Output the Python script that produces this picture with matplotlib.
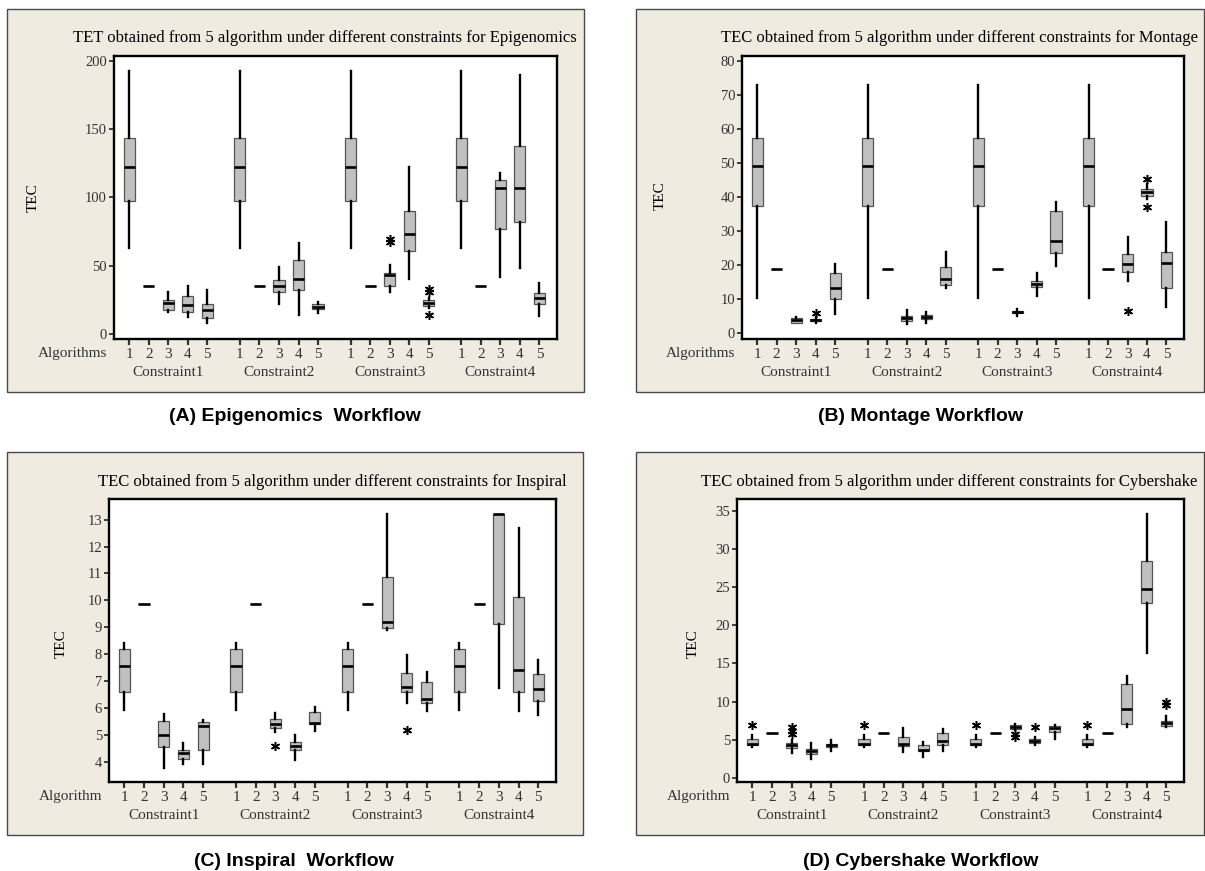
"""Four-panel Minitab-style box plots of TEC per algorithm and constraint."""

import matplotlib

matplotlib.use("Agg")
import matplotlib.pyplot as plt
from matplotlib.patches import Rectangle

W, H = 1205, 871

CONSTRAINTS = ["Constraint1", "Constraint2", "Constraint3", "Constraint4"]
ALGS = ["1", "2", "3", "4", "5"]

# order: Constraint1 alg1..5, Constraint2 alg1..5, ...
EPI_LO = [63.0, 35.4, 16.4, 12.7, 7.8, 63.0, 35.4, 22.2, 14.2, 15.1,
          63.0, 35.4, 31.0, 40.0, 18.8, 63.0, 35.4, 42.0, 48.6, 13.2]
EPI_Q1 = [97.7, 35.4, 17.8, 16.4, 11.5, 97.7, 35.4, 30.5, 32.0, 18.6,
          97.7, 35.4, 35.2, 60.6, 20.5, 97.7, 35.4, 76.7, 81.8, 21.7]
EPI_MED = [122.3, 35.4, 22.7, 21.5, 17.6, 122.3, 35.4, 35.4, 40.5, 20.0,
           122.3, 35.4, 43.2, 73.5, 22.7, 122.3, 35.4, 107.0, 107.0, 26.6]
EPI_Q3 = [143.3, 35.4, 25.2, 27.6, 21.7, 143.3, 35.4, 39.3, 54.0, 21.7,
          143.3, 35.4, 44.9, 90.4, 24.7, 143.3, 35.4, 112.6, 137.5, 30.3]
EPI_HI = [192.7, 35.4, 30.5, 35.2, 32.0, 192.7, 35.4, 49.1, 66.4, 23.2,
          192.7, 35.4, 50.3, 122.1, 26.1, 192.7, 35.4, 117.7, 189.5, 37.6]
EPI_OUT = {12: [67.5, 69.5], 14: [14.0, 30.8, 32.6]}

MON_LO = [10.3, 18.8, 2.9, 3.0, 5.5, 10.3, 18.8, 2.6, 2.9, 13.3,
          10.3, 18.8, 4.9, 10.9, 19.7, 10.3, 18.8, 15.2, 39.5, 7.5]
MON_Q1 = [37.2, 18.8, 3.0, 3.4, 9.8, 37.2, 18.8, 3.4, 4.0, 14.2,
          37.2, 18.8, 5.7, 13.4, 23.4, 37.2, 18.8, 17.8, 40.2, 13.1]
MON_MED = [49.2, 18.8, 3.7, 3.8, 13.2, 49.2, 18.8, 4.2, 4.6, 15.9,
           49.2, 18.8, 6.1, 14.4, 27.1, 49.2, 18.8, 20.3, 41.5, 20.5]
MON_Q3 = [57.4, 18.8, 4.3, 4.1, 17.6, 57.4, 18.8, 5.0, 5.1, 19.4,
          57.4, 18.8, 6.4, 15.3, 35.8, 57.4, 18.8, 23.2, 42.3, 23.7]
MON_HI = [73.1, 18.8, 4.5, 4.6, 20.1, 73.1, 18.8, 6.7, 6.0, 23.7,
          73.1, 18.8, 7.1, 17.5, 38.5, 73.1, 18.8, 28.2, 43.8, 32.6]
MON_OUT = {3: [5.9], 17: [6.5], 18: [37.0, 45.4]}

INS_LO = [5.91, 9.86, 3.76, 3.91, 3.91, 5.91, 9.86, 5.10, 4.05, 5.13,
          5.91, 9.86, 8.88, 6.18, 5.87, 5.91, 9.86, 6.74, 5.87, 5.72]
INS_Q1 = [6.58, 9.86, 4.55, 4.10, 4.42, 6.58, 9.86, 5.25, 4.43, 5.40,
          6.58, 9.86, 8.96, 6.58, 6.18, 6.58, 9.86, 9.12, 6.58, 6.26]
INS_MED = [7.57, 9.86, 4.98, 4.31, 5.31, 7.57, 9.86, 5.39, 4.58, 5.43,
           7.57, 9.86, 9.18, 6.79, 6.32, 7.57, 9.86, 13.22, 7.40, 6.69]
INS_Q3 = [8.18, 9.86, 5.50, 4.43, 5.46, 8.18, 9.86, 5.59, 4.73, 5.83,
          8.18, 9.86, 10.87, 7.28, 6.96, 8.18, 9.86, 13.22, 10.11, 7.25]
INS_HI = [8.43, 9.86, 5.77, 4.69, 5.55, 8.43, 9.86, 5.81, 4.99, 6.03,
          8.43, 9.86, 13.22, 7.97, 7.33, 8.43, 9.86, 13.22, 12.69, 7.79]
INS_OUT = {7: [4.57], 13: [5.17]}

CYB_LO = [4.03, 5.91, 3.20, 2.41, 3.50, 4.03, 5.91, 3.42, 2.76, 3.55,
          4.03, 5.91, 6.26, 4.29, 5.04, 4.03, 5.91, 6.61, 16.34, 6.66]
CYB_Q1 = [4.25, 5.91, 3.90, 3.11, 4.07, 4.25, 5.91, 4.16, 3.46, 4.25,
          4.25, 5.91, 6.35, 4.51, 5.96, 4.25, 5.91, 7.01, 22.91, 6.79]
CYB_MED = [4.42, 5.91, 4.25, 3.46, 4.25, 4.42, 5.91, 4.47, 3.64, 4.77,
           4.42, 5.91, 6.61, 4.86, 6.48, 4.42, 5.91, 8.98, 24.84, 7.14]
CYB_Q3 = [5.12, 5.91, 4.51, 3.81, 4.47, 5.12, 5.91, 5.30, 4.25, 5.91,
          5.12, 5.91, 6.88, 5.08, 6.83, 5.12, 5.91, 12.26, 28.43, 7.40]
CYB_HI = [5.56, 5.91, 4.95, 4.51, 4.95, 5.56, 5.91, 6.53, 4.64, 6.35,
          5.56, 5.91, 7.01, 5.34, 6.96, 5.56, 5.91, 13.40, 34.65, 8.10]
CYB_OUT = {0: [6.9], 2: [5.69, 6.18, 6.61], 5: [6.9], 10: [6.9],
           12: [5.39, 5.74], 13: [6.61], 15: [6.9], 19: [9.55, 9.99]}

GROUP_STEP = 5.67
BG = "#efebe1"
SERIF = ["Liberation Serif", "DejaVu Serif"]
TXT = "#333333"


def fx(x):
    return x / W


def fy(y):
    return 1 - y / H


def panel(fig, frame, box, ylim, yticks, stats, title, title_xy, ylab_xy,
          alg_label, caption, cap_xy):
    x0, y0, x1, y1 = frame
    fig.add_artist(Rectangle((fx(x0), fy(y1)), fx(x1 - x0), (y1 - y0) / H,
                             transform=fig.transFigure, facecolor=BG,
                             edgecolor="#4a4a4a", linewidth=1.0, zorder=0))
    l, t, r, b = box
    ax = fig.add_axes([fx(l), fy(b), fx(r - l), (b - t) / H])
    lo, q1, med, q3, hi, out = stats
    pos = [g * GROUP_STEP + a + 1 for g in range(4) for a in range(5)]
    bs = []
    for i in range(20):
        bs.append(dict(whislo=lo[i], q1=q1[i], med=med[i], q3=q3[i],
                       whishi=hi[i], fliers=out.get(i, [])))
    ax.bxp(bs, positions=pos, widths=0.57, patch_artist=True, showcaps=False,
           boxprops=dict(facecolor="#c0c0c0", edgecolor="#555555", linewidth=0.9),
           medianprops=dict(color="black", linewidth=1.9),
           whiskerprops=dict(color="black", linewidth=1.7),
           flierprops=dict(marker=(6, 2, 0), markersize=6.5, markeredgecolor="black",
                           markeredgewidth=1.1, linestyle="none"))
    ax.set_xlim(0.22, 3 * GROUP_STEP + 5.9)
    ax.set_ylim(*ylim)
    ax.set_yticks(yticks)
    ax.set_xticks(pos)
    ax.set_xticklabels(ALGS * 4)
    for s in ax.spines.values():
        s.set_linewidth(1.7)
    ax.tick_params(axis="x", length=4, width=1.6, pad=2.5, labelsize=11, colors=TXT)
    ax.tick_params(axis="y", length=3.5, width=1.3, pad=1.5, labelsize=10.5, colors=TXT)
    for lab in ax.get_xticklabels() + ax.get_yticklabels():
        lab.set_family(SERIF)
        lab.set_color(TXT)
    for g, name in enumerate(CONSTRAINTS):
        ax.annotate(name, xy=(g * GROUP_STEP + 3, 0), xycoords=("data", "axes fraction"),
                    xytext=(0, -23.8), textcoords="offset points", ha="center", va="center",
                    fontsize=11, family=SERIF, color=TXT)
    ax.annotate(alg_label, xy=(0, 0), xycoords="axes fraction", xytext=(-5, -10.5),
                textcoords="offset points", ha="right", va="center",
                fontsize=11, family=SERIF, color=TXT)
    fig.text(fx(title_xy[0]), fy(title_xy[1]), title, ha="center", va="center",
             fontsize=12, family=SERIF)
    fig.text(fx(ylab_xy[0]), fy(ylab_xy[1]), "TEC", ha="center", va="center",
             rotation=90, fontsize=11, family=SERIF)
    fig.text(fx(cap_xy[0]), fy(cap_xy[1]), caption, ha="center", va="center",
             fontsize=14, fontweight="bold", family=["Liberation Sans", "DejaVu Sans"])
    return ax


def main():
    fig = plt.figure(figsize=(W / 100, H / 100), dpi=100)
    fig.patch.set_facecolor("white")

    panel(fig, (7, 9, 584, 392), (114, 56, 557, 339), (-3.7, 203.7),
          [0, 50, 100, 150, 200],
          (EPI_LO, EPI_Q1, EPI_MED, EPI_Q3, EPI_HI, EPI_OUT),
          "TET obtained from 5 algorithm under different constraints for Epigenomics",
          (325, 38), (33, 198), "Algorithms", "(A) Epigenomics  Workflow", (295, 416))
    panel(fig, (636, 9, 1204, 392), (742, 56, 1184, 339), (-1.85, 81.5),
          list(range(0, 81, 10)),
          (MON_LO, MON_Q1, MON_MED, MON_Q3, MON_HI, MON_OUT),
          "TEC obtained from 5 algorithm under different constraints for Montage",
          (960, 38), (660, 196), "Algorithms", "(B) Montage Workflow", (921, 416))
    panel(fig, (7, 452, 583, 835), (109, 499, 556, 782), (3.24, 13.77),
          list(range(4, 14)),
          (INS_LO, INS_Q1, INS_MED, INS_Q3, INS_HI, INS_OUT),
          "TEC obtained from 5 algorithm under different constraints for Inspiral",
          (332, 482), (61, 644), "Algorithm", "(C) Inspiral  Workflow", (294, 861))
    panel(fig, (636, 452, 1204, 835), (737, 499, 1184, 782), (-0.57, 36.6),
          list(range(0, 36, 5)),
          (CYB_LO, CYB_Q1, CYB_MED, CYB_Q3, CYB_HI, CYB_OUT),
          "TEC obtained from 5 algorithm under different constraints for Cybershake",
          (949, 482), (693, 644), "Algorithm", "(D) Cybershake Workflow", (921, 861))

    fig.savefig("out.png", dpi=100)


if __name__ == "__main__":
    main()
